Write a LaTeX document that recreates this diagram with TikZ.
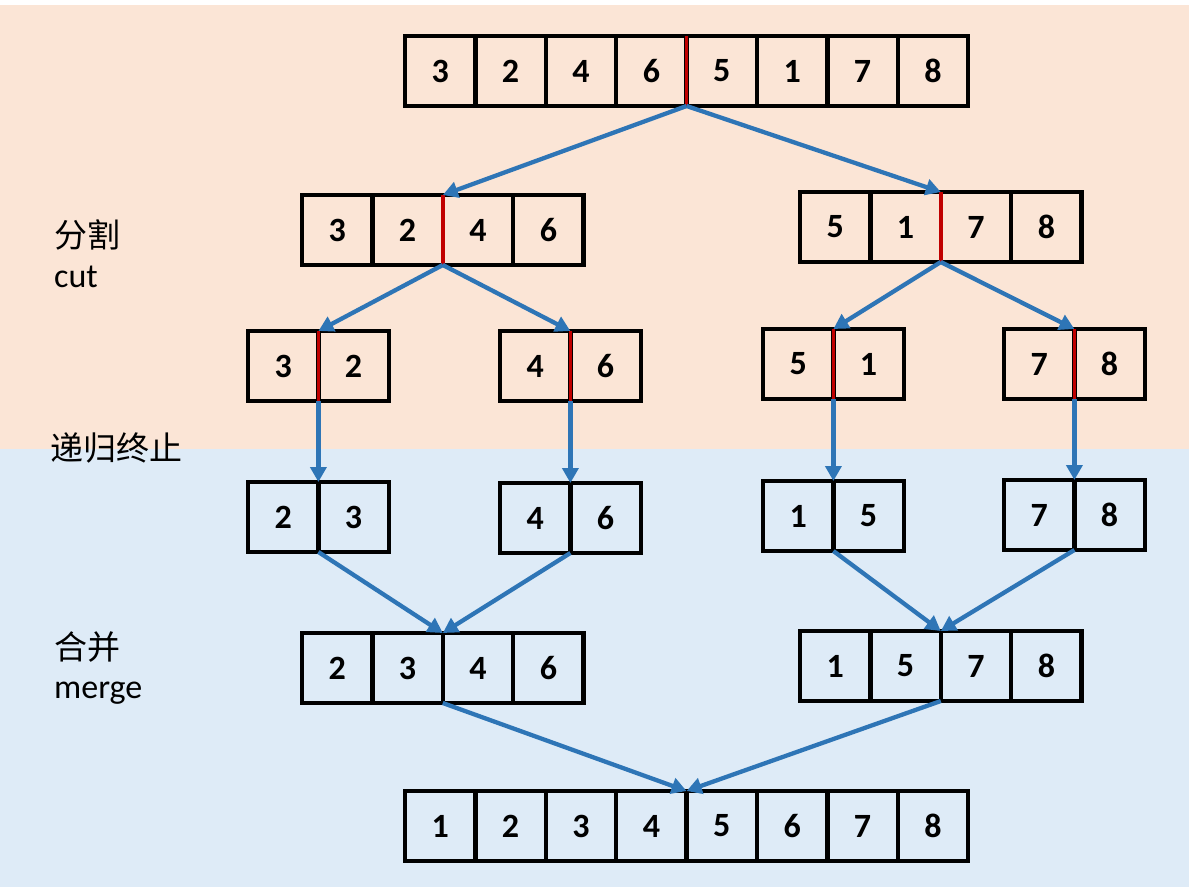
\documentclass[tikz,border=0pt]{standalone}
\usepackage{fontspec}
\setmainfont{Carlito}
\newfontfamily\cjk{Noto Sans CJK SC}
\usetikzlibrary{arrows.meta}
\definecolor{peach}{HTML}{FBE5D6}
\definecolor{lightblue}{HTML}{DEEBF7}
\definecolor{arrowblue}{HTML}{2E75B6}
\definecolor{divred}{HTML}{C00000}
\tikzset{
  cell/.style={draw=black, line width=4.3pt, minimum width=70.4pt, minimum height=70pt,
    inner sep=0pt, outer sep=0pt, font=\fontsize{34}{34}\selectfont\bfseries},
  conn/.style={draw=arrowblue, line width=4.3pt, -{Triangle[length=15pt,width=16pt]}},
  divider/.style={draw=divred, line width=3.4pt},
  lbl/.style={anchor=base west, inner sep=0pt, font=\fontsize{34}{34}\selectfont},
  cjklbl/.style={anchor=base west, inner sep=0pt, font=\cjk\fontsize{33}{33}\selectfont}
}
% \cellarray{name}{left x}{top y}{values}
\newcommand{\cellarray}[4]{%
  \foreach \v [count=\i] in {#4} {
    \node[cell] (#1-\i) at ({#2+35.2+70.4*(\i-1)}, {#3+35}) {\v};
  }%
}
\begin{document}
\begin{tikzpicture}[x=1pt, y=-1pt]
\useasboundingbox (0,0) rectangle (1189,887);
\fill[white] (0,0) rectangle (1189,887);
\fill[peach] (0,5) rectangle (1189,449);
\fill[lightblue] (0,449) rectangle (1189,887);

% level 1
\cellarray{a}{405}{36}{3,2,4,6,5,1,7,8}
% level 2
\cellarray{b}{302}{195}{3,2,4,6}
\cellarray{c}{800}{192}{5,1,7,8}
% level 3
\cellarray{d}{248}{331}{3,2}
\cellarray{e}{500}{331}{4,6}
\cellarray{f}{763}{329}{5,1}
\cellarray{g}{1004}{329}{7,8}
% level 4
\cellarray{h}{248}{482}{2,3}
\cellarray{i}{500}{483}{4,6}
\cellarray{j}{763}{481}{1,5}
\cellarray{k}{1004}{480}{7,8}
% level 5
\cellarray{m}{302}{633}{2,3,4,6}
\cellarray{n}{800}{631}{1,5,7,8}
% level 6
\cellarray{p}{405}{791}{1,2,3,4,5,6,7,8}

% red dividers
\draw[divider] (a-4.north east) -- (a-4.south east);
\draw[divider] (b-2.north east) -- (b-2.south east);
\draw[divider] (c-2.north east) -- (c-2.south east);
\draw[divider] (d-1.north east) -- (d-1.south east);
\draw[divider] (e-1.north east) -- (e-1.south east);
\draw[divider] (f-1.north east) -- (f-1.south east);
\draw[divider] (g-1.north east) -- (g-1.south east);

% connectors
\draw[conn] (a-4.south east) -- (b-2.north east);
\draw[conn] (a-4.south east) -- (c-2.north east);
\draw[conn] (b-2.south east) -- (d-1.north east);
\draw[conn] (b-2.south east) -- (e-1.north east);
\draw[conn] (c-2.south east) -- (f-1.north east);
\draw[conn] (c-2.south east) -- (g-1.north east);
\draw[conn] (d-1.south east) -- (h-1.north east);
\draw[conn] (e-1.south east) -- (i-1.north east);
\draw[conn] (f-1.south east) -- (j-1.north east);
\draw[conn] (g-1.south east) -- (k-1.north east);
\draw[conn] (h-1.south east) -- (m-2.north east);
\draw[conn] (i-1.south east) -- (m-2.north east);
\draw[conn] (j-1.south east) -- (n-2.north east);
\draw[conn] (k-1.south east) -- (n-2.north east);
\draw[conn] (m-2.south east) -- (p-4.north east);
\draw[conn] (n-2.south east) -- (p-4.north east);

% labels
\node[cjklbl] (l1) at (54,247) {分割};
\node[lbl] (l2) at (54,287) {cut};
\node[cjklbl] (l3) at (50,460) {递归终止};
\node[cjklbl] (l4) at (54,659) {合并};
\node[lbl] (l5) at (54,698) {merge};
\end{tikzpicture}
\end{document}
